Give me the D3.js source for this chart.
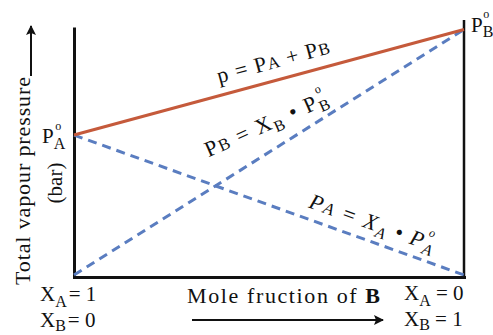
<!DOCTYPE html>
<html>
<head>
<meta charset="utf-8">
<script src="https://cdn.jsdelivr.net/npm/d3@7"></script>
<style>
  body { margin: 0; background: #fff; }
</style>
</head>
<body>
<svg id="chart" width="493" height="335" font-family="'Liberation Serif', 'Times New Roman', serif"></svg>
<script>
// ---- data (mole fraction of B, pressures relative to P°B) ----
const xB = [0, 1];
const pA = [0.57, 0];       // PA = XA . P°A
const pB = [0, 1.0];        // PB = XB . P°B
const pTotal = [0.57, 1.0]; // p = PA + PB

const svg = d3.select("#chart");
const red = "#c55a3b";
const blue = "#5a7dc0";
const ink = "#111";

const xs = d3.scaleLinear().domain([0, 1]).range([74, 464]);
const ys = d3.scaleLinear().domain([0, 1]).range([275, 29.5]);

// axes (no ticks, just the frame lines)
svg.append("g")
  .attr("transform", "translate(" + xs(0) + ",0)")
  .call(d3.axisLeft(d3.scaleLinear().range([27, 278])).tickValues([]).tickSizeOuter(0))
  .select(".domain").attr("stroke", ink).attr("stroke-width", 3);
svg.append("g")
  .attr("transform", "translate(0," + (ys(0) + 2) + ")")
  .call(d3.axisBottom(d3.scaleLinear().range([xs(0) - 1.5, xs(1) + 1.5])).tickValues([]).tickSizeOuter(0))
  .select(".domain").attr("stroke", ink).attr("stroke-width", 3);
// right border at XB = 1
svg.append("line")
  .attr("x1", xs(1)).attr("x2", xs(1))
  .attr("y1", 20).attr("y2", ys(0) + 2)
  .attr("stroke", ink).attr("stroke-width", 2.5);

const line = d3.line().x(d => xs(d[0])).y(d => ys(d[1]));

svg.append("path")
  .datum(d3.zip(xB, pA))
  .attr("d", line).attr("fill", "none")
  .attr("stroke", blue).attr("stroke-width", 3).attr("stroke-dasharray", "9,6");
svg.append("path")
  .datum(d3.zip(xB, pB))
  .attr("d", line).attr("fill", "none")
  .attr("stroke", blue).attr("stroke-width", 3).attr("stroke-dasharray", "9,6");
svg.append("path")
  .datum(d3.zip(xB, pTotal))
  .attr("d", line).attr("fill", "none")
  .attr("stroke", red).attr("stroke-width", 3);

// rich text helper: parts = [text, size, shift, dx, weight]
function rich(g, x, y, size, parts, opts) {
  opts = opts || {};
  const t = g.append("text").attr("x", x).attr("y", y)
    .attr("font-size", size).attr("fill", ink)
    .attr("font-style", opts.italic ? "italic" : null);
  if (opts.len) t.attr("textLength", opts.len).attr("lengthAdjust", "spacing");
  let prev = 0;
  parts.forEach(p => {
    const shift = p[2] || 0;
    t.append("tspan")
      .attr("font-size", p[1] || size)
      .attr("dy", shift - prev)
      .attr("dx", p[3] || 0)
      .attr("font-weight", p[4] || null)
      .text(p[0]);
    prev = shift;
  });
  return t;
}

function angleOf(xv, yv) {
  const dx = xs(xv[1]) - xs(xv[0]);
  const dy = ys(yv[1]) - ys(yv[0]);
  return Math.atan2(dy, dx) * 180 / Math.PI;
}

// P°A and P°B labels (subscript first, then the degree ring above it)
rich(svg, 42, 143, 21, [["P"], ["A", 16, 6], ["o", 12, -13, -10]]);
rich(svg, 471, 32, 21, [["P"], ["B", 16, 5], ["o", 12, -14, -10]]);

// p = PA + PB along red line
const g1 = svg.append("g")
  .attr("transform", "translate(" + xs(0.38) + "," + ys(0.57 + 0.43 * 0.38) + ") rotate(" + angleOf(xB, pTotal) + ")");
rich(g1, 0, -12, 22, [["p = P"], ["A", 17], [" + P"], ["B", 17]], { len: 116 });

// PB = XB . P°B
const g2 = svg.append("g")
  .attr("transform", "translate(" + xs(0.345) + "," + (ys(0.345) - 33) + ") rotate(-24)");
rich(g2, 0, 0, 22, [["P"], ["B", 17], [" = X"], ["B", 16, 5], [" \u2022 P", 22, 0], ["B", 16, 5], ["o", 12, -14, -10]], { len: 134 });

// PA = XA . P°A (italic)
const g3 = svg.append("g")
  .attr("transform", "translate(" + xs(0.59) + "," + ys(0.57 * 0.41) + ") rotate(" + angleOf(xB, pA) + ")");
rich(g3, 0, -11, 22, [["P"], ["A", 17], [" = X"], ["A", 16, 5], [" \u2022 P", 22, 0], ["A", 16, 5], ["o", 12, -14, -10]], { italic: true, len: 133 });

// y axis title
const ylab = svg.append("g").attr("transform", "translate(30,285) rotate(-90)");
ylab.append("text").attr("x", 0).attr("y", 0).attr("font-size", 22).attr("fill", ink)
  .attr("textLength", 208).attr("lengthAdjust", "spacing")
  .text("Total vapour pressure");
svg.append("text")
  .attr("transform", "translate(62,183) rotate(-90)")
  .attr("text-anchor", "middle").attr("font-size", 21).attr("fill", ink)
  .text("(bar)");

// arrows
svg.append("defs").append("marker")
  .attr("id", "arr").attr("viewBox", "0 0 10 10")
  .attr("refX", 9).attr("refY", 5)
  .attr("markerWidth", 10).attr("markerHeight", 10).attr("markerUnits", "userSpaceOnUse")
  .attr("orient", "auto")
  .append("path").attr("d", "M0,0 L10,5 L0,10 L2,5 Z").attr("fill", ink);
svg.append("line")
  .attr("x1", 31).attr("x2", 31).attr("y1", 76).attr("y2", 26)
  .attr("stroke", ink).attr("stroke-width", 2).attr("marker-end", "url(#arr)");
svg.append("line")
  .attr("x1", 192).attr("x2", 383).attr("y1", 320).attr("y2", 320)
  .attr("stroke", ink).attr("stroke-width", 2).attr("marker-end", "url(#arr)");

// x axis title
const xt = svg.append("text").attr("x", 187).attr("y", 303).attr("font-size", 22).attr("fill", ink)
  .attr("textLength", 193).attr("lengthAdjust", "spacing");
xt.append("tspan").text("Mole fruction of ");
xt.append("tspan").attr("font-weight", "bold").text("B");

// end labels
rich(svg, 40, 301, 21, [["X"], ["A", 16, 6], ["= 1", 21, 0, 2]]);
rich(svg, 40, 327, 21, [["X"], ["B", 16, 4], ["= 0", 21, 0, 2]]);
rich(svg, 404, 300, 21, [["X"], ["A", 16, 6], [" = 0", 21, 0]]);
rich(svg, 404, 326, 21, [["X"], ["B", 16, 4], [" = 1", 21, 0]]);
</script>
</body>
</html>
